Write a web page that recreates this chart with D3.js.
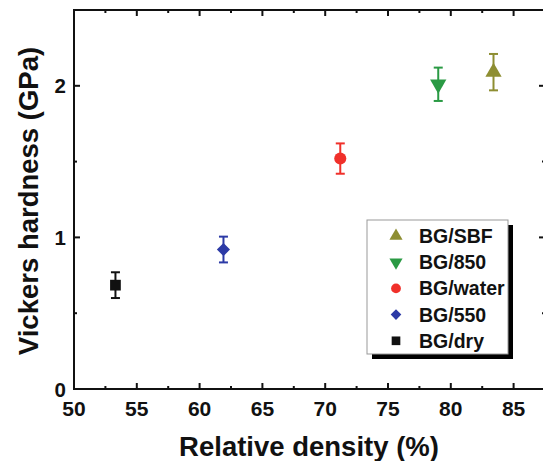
<!DOCTYPE html>
<html>
<head>
<meta charset="utf-8">
<script src="https://cdn.jsdelivr.net/npm/d3@7"></script>
<style>
  body { margin: 0; background: #fff; }
  svg text { font-family: "Liberation Sans", Arial, sans-serif; font-weight: bold; fill: #111; }
</style>
</head>
<body>
<svg id="chart" width="543" height="461"></svg>
<script>
// data
var samples = ["BG/SBF", "BG/850", "BG/water", "BG/550", "BG/dry"];
var density = [83.4, 79.0, 71.2, 61.9, 53.3];
var hardness = [2.09, 2.01, 1.52, 0.92, 0.685];
var hardnessErr = [0.12, 0.11, 0.10, 0.085, 0.085];
var colors = ["#8e8e32", "#2a9a44", "#f0302a", "#2c3aa6", "#111111"];
var shapes = ["triangle", "triangleDown", "circle", "diamond", "square"];
var xTicks = [50, 55, 60, 65, 70, 75, 80, 85];
var yTicks = [0, 1, 2];

var margin = {left: 74, top: 10, right: 545, bottom: 389};

var svg = d3.select("#chart");

var x = d3.scaleLinear().domain([50, 87.5]).range([margin.left, margin.right]);
var y = d3.scaleLinear().domain([0, 2.5]).range([margin.bottom, margin.top]);

var xMinor = d3.range(52.5, 87.5, 5);
var yMinor = [0.5, 1.5];

var axes = svg.append("g").attr("stroke", "#111");

// frame
axes.append("rect")
    .attr("x", x(50)).attr("y", y(2.5))
    .attr("width", x(87.5) - x(50)).attr("height", y(0) - y(2.5))
    .attr("fill", "none").attr("stroke-width", 2);

// ticks, all pointing inwards
function tickLines(vals, len, isX) {
    vals.forEach(function (v) {
        if (isX) {
            axes.append("line").attr("x1", x(v)).attr("x2", x(v))
                .attr("y1", y(0)).attr("y2", y(0) - len).attr("stroke-width", 2);
            axes.append("line").attr("x1", x(v)).attr("x2", x(v))
                .attr("y1", y(2.5)).attr("y2", y(2.5) + len).attr("stroke-width", 2);
        } else {
            axes.append("line").attr("y1", y(v)).attr("y2", y(v))
                .attr("x1", x(50)).attr("x2", x(50) + len).attr("stroke-width", 2);
            axes.append("line").attr("y1", y(v)).attr("y2", y(v))
                .attr("x1", x(87.5)).attr("x2", x(87.5) - len).attr("stroke-width", 2);
        }
    });
}
tickLines(xTicks, 6, true);
tickLines(xMinor, 3, true);
tickLines(yTicks, 6, false);
tickLines(yMinor, 3, false);

svg.append("g").selectAll("text").data(xTicks).enter().append("text")
    .attr("x", function (d) { return x(d); })
    .attr("y", 416)
    .attr("text-anchor", "middle")
    .attr("font-size", "21px")
    .text(function (d) { return d; });

svg.append("g").selectAll("text").data(yTicks).enter().append("text")
    .attr("x", 66)
    .attr("y", function (d) { return y(d) + 7.5; })
    .attr("text-anchor", "end")
    .attr("font-size", "20.5px")
    .text(function (d) { return d; });

svg.append("text")
    .attr("x", 309).attr("y", 456)
    .attr("text-anchor", "middle")
    .attr("font-size", "27.5px")
    .text("Relative density (%)");

svg.append("text")
    .attr("transform", "translate(38,201) rotate(-90)")
    .attr("text-anchor", "middle")
    .attr("font-size", "27.5px")
    .text("Vickers hardness (GPa)");

function symbolOf(shape, size) {
    if (shape === "triangle" || shape === "triangleDown") return d3.symbol(d3.symbolTriangle, size)();
    if (shape === "circle") return d3.symbol(d3.symbolCircle, size)();
    if (shape === "diamond") return d3.symbol(d3.symbolSquare, size * 0.75)();
    return d3.symbol(d3.symbolSquare, size)();
}
function symbolRot(shape) {
    if (shape === "triangleDown") return " rotate(180)";
    if (shape === "diamond") return " rotate(45)";
    return "";
}

// error bars
var eb = svg.append("g").selectAll("g").data(samples).enter().append("g")
    .attr("stroke", function (d, i) { return colors[i]; })
    .attr("stroke-width", 2);
eb.append("line")
    .attr("x1", function (d, i) { return x(density[i]); })
    .attr("x2", function (d, i) { return x(density[i]); })
    .attr("y1", function (d, i) { return y(hardness[i] + hardnessErr[i]); })
    .attr("y2", function (d, i) { return y(hardness[i] - hardnessErr[i]); });
[1, -1].forEach(function (s) {
    eb.append("line")
        .attr("x1", function (d, i) { return x(density[i]) - 4.5; })
        .attr("x2", function (d, i) { return x(density[i]) + 4.5; })
        .attr("y1", function (d, i) { return y(hardness[i] + s * hardnessErr[i]); })
        .attr("y2", function (d, i) { return y(hardness[i] + s * hardnessErr[i]); });
});

// points
svg.append("g").selectAll("path").data(samples).enter().append("path")
    .attr("d", function (d, i) { return symbolOf(shapes[i], 115); })
    .attr("transform", function (d, i) {
        return "translate(" + x(density[i]) + "," + y(hardness[i]) + ")" + symbolRot(shapes[i]);
    })
    .attr("fill", function (d, i) { return colors[i]; });

// legend
var lg = svg.append("g");
lg.append("rect").attr("x", 372).attr("y", 225).attr("width", 141).attr("height", 134).attr("fill", "#000");
lg.append("rect").attr("x", 367).attr("y", 220).attr("width", 141).attr("height", 134)
    .attr("fill", "#fff").attr("stroke", "#999").attr("stroke-width", 1);
var items = lg.selectAll("g.item").data(samples).enter().append("g")
    .attr("transform", function (d, i) { return "translate(0," + (236 + i * 26.2) + ")"; });
items.append("path")
    .attr("d", function (d, i) { return symbolOf(shapes[i], 75); })
    .attr("transform", function (d, i) { return "translate(396,0)" + symbolRot(shapes[i]); })
    .attr("fill", function (d, i) { return colors[i]; });
items.append("text")
    .attr("x", 419).attr("y", 7)
    .attr("font-size", "19.5px")
    .text(function (d) { return d; });
</script>
</body>
</html>
